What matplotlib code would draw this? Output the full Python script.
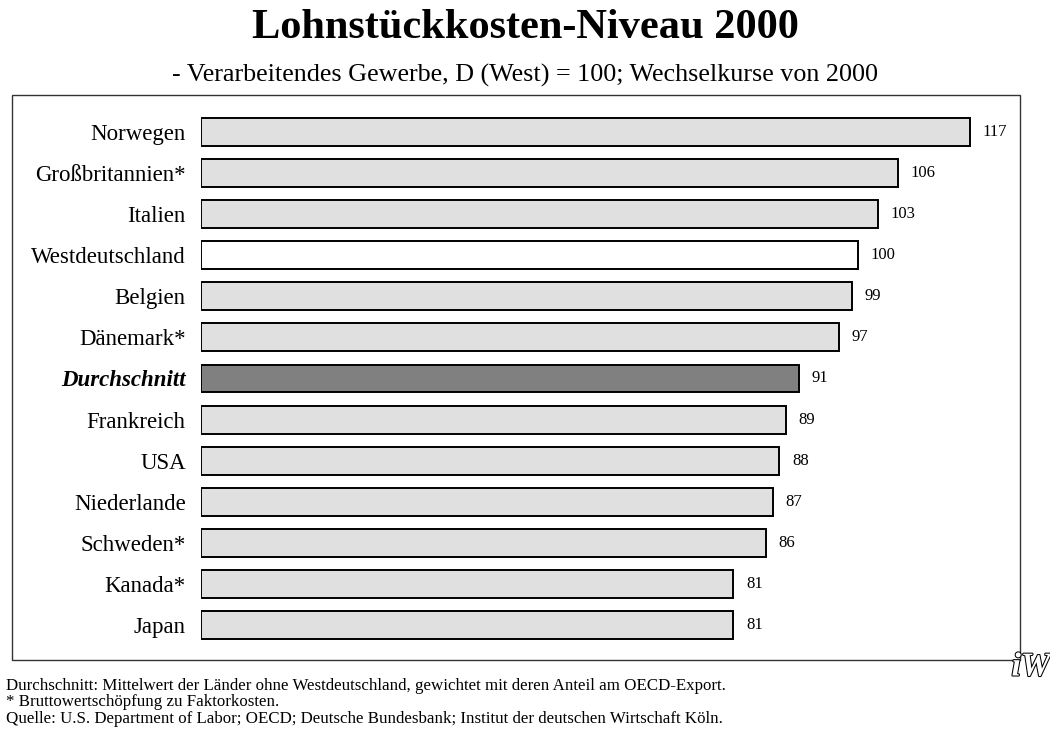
import matplotlib.pyplot as plt
import matplotlib.patheffects as pe
from matplotlib.patches import Rectangle

plt.rcParams['font.family'] = ['Liberation Serif', 'DejaVu Serif']

# data
laender = ['Norwegen', 'Großbritannien*', 'Italien', 'Westdeutschland', 'Belgien',
           'Dänemark*', 'Durchschnitt', 'Frankreich', 'USA', 'Niederlande',
           'Schweden*', 'Kanada*', 'Japan']
werte = [117, 106, 103, 100, 99, 97, 91, 89, 88, 87, 86, 81, 81]

farben = []
for name in laender:
    if name == 'Westdeutschland':
        farben.append('white')
    elif name == 'Durchschnitt':
        farben.append('#808080')
    else:
        farben.append('#e0e0e0')

fig = plt.figure(figsize=(10.5, 7.33), dpi=100)
ax = fig.add_axes([201 / 1050, 1 - 645.5 / 733, (1015 - 201) / 1050, 534 / 733])

pos = list(range(len(laender)))
ax.barh(pos, werte, height=0.68, color=farben, edgecolor='black', linewidth=1.4)
ax.set_ylim(len(laender) - 0.5, -0.5)
ax.set_xlim(0, (1015 - 201) / 6.573)

for p, v in zip(pos, werte):
    ax.annotate(str(v), (v, p), xytext=(9, 0), textcoords='offset points',
                va='center', ha='left', fontsize=12)

ax.set_yticks(pos)
ax.set_yticklabels(laender, fontsize=16.5)
ax.tick_params(axis='y', length=0, pad=11)
ax.set_xticks([])
for lbl in ax.get_yticklabels():
    if lbl.get_text() == 'Durchschnitt':
        lbl.set_fontweight('bold')
        lbl.set_fontstyle('italic')
for s in ax.spines.values():
    s.set_visible(False)

# rahmen
fig.patches.append(Rectangle((12 / 1050, 1 - 660 / 733), (1020 - 12) / 1050, (660 - 95) / 733,
                             transform=fig.transFigure, fill=False, edgecolor='#333333',
                             linewidth=1.0))

fig.text(0.5, 1 - 28 / 733, 'Lohnstückkosten-Niveau 2000', ha='center', va='center',
         fontsize=30.5, fontweight='bold')
fig.text(0.5, 1 - 75 / 733, '- Verarbeitendes Gewerbe, D (West) = 100; Wechselkurse von 2000',
         ha='center', va='center', fontsize=18.8)

fussnoten = ['Durchschnitt: Mittelwert der Länder ohne Westdeutschland, gewichtet mit deren Anteil am OECD-Export.',
             '* Bruttowertschöpfung zu Faktorkosten.',
             'Quelle: U.S. Department of Labor; OECD; Deutsche Bundesbank; Institut der deutschen Wirtschaft Köln.']
for i, t in enumerate(fussnoten):
    fig.text(6 / 1050, 1 - (686 + i * 16.5) / 733, t, ha='left', va='center', fontsize=12.2)

# logo
fig.text(1031 / 1050, 1 - 667 / 733, 'iW', ha='center', va='center', fontsize=24,
         fontweight='bold', fontstyle='italic', color='white',
         path_effects=[pe.withStroke(linewidth=1.5, foreground='black')])

fig.savefig('out.png', dpi=100)
